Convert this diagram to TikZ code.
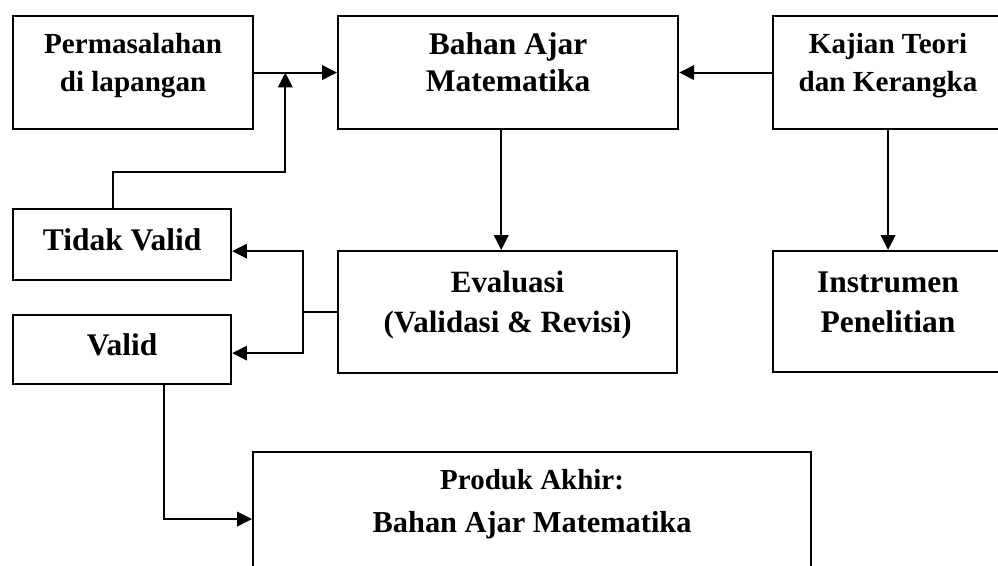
\documentclass[tikz,border=0pt]{standalone}
\usepackage{fontspec}
\setmainfont{Liberation Serif}
\usetikzlibrary{arrows.meta, calc, positioning}

\tikzset{
  kotak/.style n args={3}{draw, line width=1.5pt, inner sep=0pt, anchor=north west,
    execute at begin node={\begin{minipage}[c][#2][t]{#1}\centering\rule{0pt}{#3}},
    execute at end node={\end{minipage}}},
  besar/.style={font=\bfseries\fontsize{22.4}{26.5}\selectfont},
  kecil/.style={font=\bfseries\fontsize{20.7}{27}\selectfont},
  panah/.style={line width=1.5pt, -{Triangle[length=0.37cm, width=0.36cm]}},
  garis/.style={line width=1.5pt},
}

\begin{document}
\begin{tikzpicture}[x=0.025cm, y=-0.025cm]
  \useasboundingbox (0,0) rectangle (998,565);
  \clip (0,0) rectangle (998,565);

  % baris atas
  \node[kotak={6cm}{2.825cm}{0.925cm}, kecil] (perm) at (12,15) {Permasalahan\\di lapangan};
  \node[kotak={8.5cm}{2.825cm}{0.95cm}, besar] (bahan) at (337,15) {Bahan Ajar\\Matematika};
  \node[kotak={5.75cm}{2.825cm}{0.925cm}, kecil] (kajian) at (772,15) {Kajian Teori\\dan Kerangka};

  % baris tengah
  \node[kotak={5.45cm}{1.775cm}{1.025cm}, besar] (tidak) at (12,208) {Tidak Valid};
  \node[kotak={5.45cm}{1.725cm}{1.0cm}, besar] (valid) at (12,314) {Valid};
  \node[kotak={8.475cm}{3.05cm}{1.025cm}, besar, font=\bfseries\fontsize{22}{28.5}\selectfont] (evaluasi) at (337,250) {Evaluasi\\(Validasi \& Revisi)};
  \node[kotak={5.75cm}{3.025cm}{1.025cm}, besar, font=\bfseries\fontsize{22.4}{29}\selectfont] (instrumen) at (772,250) {Instrumen\\Penelitian};

  % produk akhir
  \node[kotak={13.95cm}{3.35cm}{0.925cm}, font=\bfseries\fontsize{20.6}{31.2}\selectfont] (produk) at (252,451)
    {Produk Akhir:\\{\fontsize{21.6}{31.2}\selectfont Bahan Ajar Matematika}};

  % panah
  \coordinate (gabung) at ($(perm.east)!0.376!(bahan.west)$);
  \draw[panah] (perm.east) -- (bahan.west);
  \draw[panah] (kajian.west) -- (bahan.east);
  \draw[panah] ($(tidak.north west)!0.46!(tidak.north east)$) -- ++(0,-36) -| (gabung);

  \coordinate (turun) at ($(bahan.south west)!0.48!(bahan.south east)$);
  \draw[panah] (turun) -- (turun |- evaluasi.north);
  \draw[panah] (kajian.south) -- (instrumen.north);

  \draw[garis] (evaluasi.west) -- ++(-34,0) coordinate (cabang);
  \draw[panah] (cabang) |- ($(tidak.north east)!0.59!(tidak.south east)$);
  \draw[panah] (cabang) |- ($(valid.north east)!0.55!(valid.south east)$);

  \draw[panah] ($(valid.south west)!0.69!(valid.south east)$) |- (produk.west);
\end{tikzpicture}
\end{document}
